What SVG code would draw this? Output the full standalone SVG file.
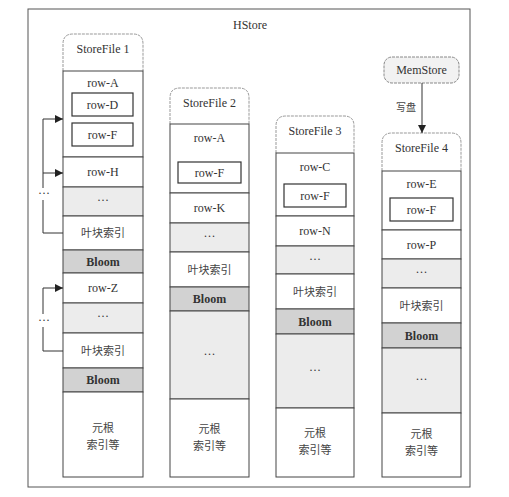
<svg xmlns="http://www.w3.org/2000/svg" width="509" height="497" viewBox="0 0 509 497">
<defs>
<marker id="ah" viewBox="0 0 10 10" refX="10" refY="5" markerWidth="8" markerHeight="8" markerUnits="userSpaceOnUse" orient="auto">
<path d="M0,0 L10,5 L0,10 z" fill="#222"/>
</marker>
</defs>
<style>
text{font-family:"Liberation Serif","Noto Sans CJK SC",serif;font-size:12px;fill:#333;text-anchor:middle}
.cjk{font-family:"Noto Sans CJK SC","Liberation Serif",sans-serif;font-size:11px;fill:#444}
.b{font-weight:bold;fill:#333}
.sec{fill:#fff;stroke:#444;stroke-width:1}
.dots{fill:#ececec;stroke:#444;stroke-width:1}
.bloom{fill:#d2d2d2;stroke:#444;stroke-width:1}
.box{fill:#fff;stroke:#333;stroke-width:1.2}
.hdr{fill:#fff;stroke:#999;stroke-width:1;stroke-dasharray:3 1}
.ln{fill:none;stroke:#333;stroke-width:1}
</style>
<rect width="509" height="497" fill="#fff"/>
<g id="hstore">
<rect x="28" y="9" width="442" height="478" fill="none" stroke="#555" stroke-width="1"/>
<text x="250" y="29">HStore</text>
</g>

<g id="storefile1">
<path class="hdr" d="M63,71 V44 Q63,34 73,34 H133 Q143,34 143,44 V71"/>
<text x="103" y="53">StoreFile 1</text>
<rect class="sec" x="63" y="71" width="80" height="86"/>
<text x="103" y="87">row-A</text>
<rect class="box" x="72" y="93" width="61" height="23"/>
<text x="102.5" y="108.5">row-D</text>
<rect class="box" x="72" y="123" width="61" height="23"/>
<text x="102.5" y="138.5">row-F</text>
<rect class="sec" x="63" y="157" width="80" height="30"/>
<text x="103" y="176">row-H</text>
<rect class="dots" x="63" y="187" width="80" height="29"/>
<text x="103" y="204">···</text>
<rect class="sec" x="63" y="216" width="80" height="34"/>
<text class="cjk" x="103" y="237">叶块索引</text>
<rect class="bloom" x="63" y="250" width="80" height="23"/>
<text class="b" x="103" y="265.5">Bloom</text>
<rect class="sec" x="63" y="273" width="80" height="30"/>
<text x="103" y="292">row-Z</text>
<rect class="dots" x="63" y="303" width="80" height="30"/>
<text x="103" y="320">···</text>
<rect class="sec" x="63" y="333" width="80" height="35"/>
<text class="cjk" x="103" y="354.5">叶块索引</text>
<rect class="bloom" x="63" y="368" width="80" height="24"/>
<text class="b" x="103" y="384">Bloom</text>
<rect class="sec" x="63" y="392" width="80" height="85"/>
<text class="cjk" x="103" y="432">元根</text>
<text class="cjk" x="103" y="449">索引等</text>
</g>

<g id="storefile2">
<path class="hdr" d="M170,124 V98 Q170,88 180,88 H239 Q249,88 249,98 V124"/>
<text x="209.5" y="107">StoreFile 2</text>
<rect class="sec" x="170" y="124" width="79" height="69"/>
<text x="209.5" y="142">row-A</text>
<rect class="box" x="178" y="162" width="63" height="21"/>
<text x="209.5" y="176.5">row-F</text>
<rect class="sec" x="170" y="193" width="79" height="30"/>
<text x="209.5" y="212">row-K</text>
<rect class="dots" x="170" y="223" width="79" height="29"/>
<text x="209.5" y="240">···</text>
<rect class="sec" x="170" y="252" width="79" height="35"/>
<text class="cjk" x="209.5" y="273.5">叶块索引</text>
<rect class="bloom" x="170" y="287" width="79" height="24"/>
<text class="b" x="209.5" y="303">Bloom</text>
<rect class="dots" x="170" y="311" width="79" height="88"/>
<text x="209.5" y="358">···</text>
<rect class="sec" x="170" y="399" width="79" height="78"/>
<text class="cjk" x="209.5" y="433">元根</text>
<text class="cjk" x="209.5" y="450">索引等</text>
</g>

<g id="storefile3">
<path class="hdr" d="M276,153 V126 Q276,116 286,116 H344 Q354,116 354,126 V153"/>
<text x="315" y="135">StoreFile 3</text>
<rect class="sec" x="276" y="153" width="78" height="63"/>
<text x="315" y="171">row-C</text>
<rect class="box" x="284" y="184" width="62" height="23"/>
<text x="315" y="199.5">row-F</text>
<rect class="sec" x="276" y="216" width="78" height="30"/>
<text x="315" y="234.5">row-N</text>
<rect class="dots" x="276" y="246" width="78" height="28"/>
<text x="315" y="263">···</text>
<rect class="sec" x="276" y="274" width="78" height="35"/>
<text class="cjk" x="315" y="295.5">叶块索引</text>
<rect class="bloom" x="276" y="309" width="78" height="25"/>
<text class="b" x="315" y="325.5">Bloom</text>
<rect class="dots" x="276" y="334" width="78" height="74"/>
<text x="315" y="374">···</text>
<rect class="sec" x="276" y="408" width="78" height="69"/>
<text class="cjk" x="315" y="437">元根</text>
<text class="cjk" x="315" y="454">索引等</text>
</g>

<g id="storefile4">
<path class="hdr" d="M382,171 V143 Q382,133 392,133 H451 Q461,133 461,143 V171"/>
<text x="421.5" y="152">StoreFile 4</text>
<rect class="sec" x="382" y="171" width="79" height="59"/>
<text x="421.5" y="188">row-E</text>
<rect class="box" x="390" y="198" width="63" height="23"/>
<text x="421.5" y="213.5">row-F</text>
<rect class="sec" x="382" y="230" width="79" height="29"/>
<text x="421.5" y="248.5">row-P</text>
<rect class="dots" x="382" y="259" width="79" height="29"/>
<text x="421.5" y="276">···</text>
<rect class="sec" x="382" y="288" width="79" height="35"/>
<text class="cjk" x="421.5" y="309.5">叶块索引</text>
<rect class="bloom" x="382" y="323" width="79" height="25"/>
<text class="b" x="421.5" y="339.5">Bloom</text>
<rect class="dots" x="382" y="348" width="79" height="65"/>
<text x="421.5" y="383">···</text>
<rect class="sec" x="382" y="413" width="79" height="64"/>
<text class="cjk" x="421.5" y="438">元根</text>
<text class="cjk" x="421.5" y="455">索引等</text>
</g>

<g id="memstore">
<rect x="384" y="57" width="75" height="26" rx="8" fill="#f2f2f2" stroke="#888" stroke-width="1" stroke-dasharray="3 1"/>
<text x="421.5" y="74">MemStore</text>
</g>

<g id="connectors">
<line class="ln" x1="422" y1="83" x2="422" y2="133" marker-end="url(#ah)"/>
<text class="cjk" x="416" y="111" style="text-anchor:end;font-size:10px">写盘</text>
<path class="ln" d="M43,188 V119 H63" marker-end="url(#ah)"/>
<path class="ln" d="M43,173 H63" marker-end="url(#ah)"/>
<path class="ln" d="M43,200 V233 H63"/>
<text x="44" y="197">···</text>
<path class="ln" d="M43,314 V288 H63" marker-end="url(#ah)"/>
<path class="ln" d="M43,327 V351 H63"/>
<text x="44" y="324">···</text>
</g>
</svg>
